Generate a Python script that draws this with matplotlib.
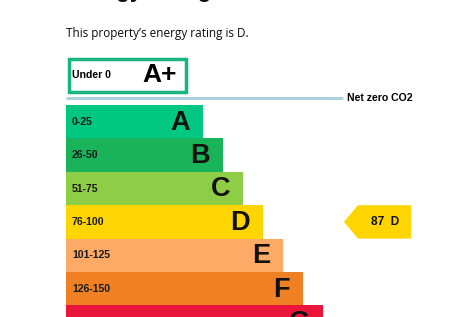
import matplotlib.pyplot as plt
from matplotlib.patches import Rectangle, Polygon

# EPC bands
bands = ['A', 'B', 'C', 'D', 'E', 'F', 'G']
ranges = ['0-25', '26-50', '51-75', '76-100', '101-125', '126-150', '151-200']
lengths = [137, 157, 177, 197, 217, 237, 257]
colors = ['#00c781', '#19b459', '#8dce46', '#ffd500', '#fcaa65', '#ef8023', '#e9153b']

score = 87
rating = 'D'

title = 'Energy rating and score'
subtitle = "This property\u2019s energy rating is D."

fig = plt.figure(figsize=(4.76, 3.17), dpi=100)
ax = fig.add_axes([0, 0, 1, 1])
ax.set_xlim(0, 476)
ax.set_ylim(317, 0)
ax.axis('off')

left = 66
row_h = 33.4
top = 105

ax.text(left, -3.5, title, fontsize=16.3, fontweight='bold', family='Liberation Sans',
        va='baseline', ha='left', color='#0b0c0c')
ax.text(left, 33, subtitle, fontsize=8.45, family='Open Sans', va='center', ha='left', color='#0b0c0c')

# A+ box
ax.add_patch(Rectangle((68.5, 58.5), 117, 33, fill=False, edgecolor='#19b57e', lw=2.5))
ax.text(72, 75, 'Under 0', fontsize=7.6, fontweight='bold', family='Liberation Sans', va='center')
ax.text(177, 75, 'A+', fontsize=19, fontweight='bold', family='Liberation Sans', va='center', ha='right')

# net zero line
ax.plot([left, 343], [98, 98], color='#abd3dd', lw=2.2, solid_capstyle='butt')
ax.text(347, 98, 'Net zero CO2', fontsize=7.6, fontweight='bold', family='Liberation Sans', va='center')

ys = [top + row_h * (i + 0.5) for i in range(len(bands))]
ax.barh(ys, lengths, height=row_h, left=left, color=colors, edgecolor='none')
for y, b, r, w in zip(ys, bands, ranges, lengths):
    ax.text(72, y, r, fontsize=7.6, fontweight='bold', family='Liberation Sans', va='center', color='#1a1a1a')
    ax.text(left + w - 13, y + 1, b, fontsize=19.5, fontweight='bold', family='Liberation Sans',
            va='center', ha='right', color='#111111')

# current rating arrow
yi = ys[bands.index(rating)]
ax.add_patch(Polygon([(344, yi), (358, yi - row_h / 2), (411, yi - row_h / 2),
                      (411, yi + row_h / 2), (358, yi + row_h / 2)],
                     closed=True, color=colors[bands.index(rating)], lw=0))
ax.text(371, yi + 0.5, f'{score}  {rating}', fontsize=8.6, fontweight='bold', family='Liberation Sans',
        va='center', ha='left', color='#111111')

fig.savefig('out.png', dpi=100)
